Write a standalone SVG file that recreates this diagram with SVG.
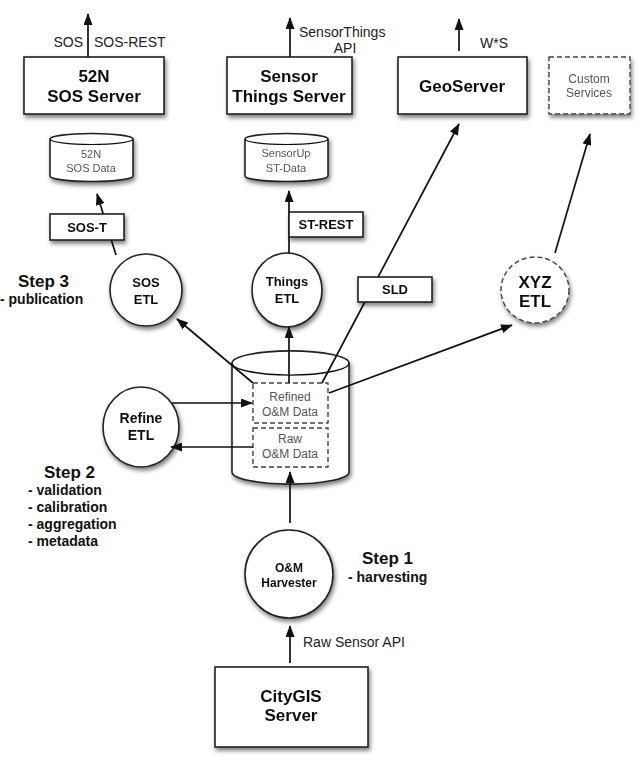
<svg xmlns="http://www.w3.org/2000/svg" width="640" height="764" viewBox="0 0 640 764">
<defs>
<style>
text{font-family:"Liberation Sans",Arial,sans-serif;fill:#111;text-anchor:middle}
.box{fill:#fff;stroke:#222;stroke-width:1.6}
.dash{fill:#fff;stroke:#444;stroke-width:1.4;stroke-dasharray:5,3}
.dashin{fill:none;stroke:#444;stroke-width:1.4;stroke-dasharray:5,3}
.big{font-size:17px;font-weight:bold}
.mid{font-size:13px;font-weight:bold}
.sm{font-size:11px;fill:#555}
.lab{font-size:14px;fill:#222}
.step{font-size:17px;font-weight:bold;text-anchor:start}
.stepl{font-size:14px;font-weight:bold;text-anchor:start}
.conn{stroke:#111;stroke-width:1.7;fill:none;marker-end:url(#ah)}
.line{stroke:#111;stroke-width:1.6;fill:none}
.sh{filter:url(#shadow)}
</style>
<marker id="ah" markerUnits="userSpaceOnUse" markerWidth="12" markerHeight="9" refX="11" refY="4.5" orient="auto">
<path d="M0,0 L12,4.5 L0,9 z" fill="#111"/>
</marker>
<filter id="shadow" x="-20%" y="-20%" width="150%" height="160%">
<feDropShadow dx="1.5" dy="3" stdDeviation="2" flood-color="#000" flood-opacity="0.5"/>
</filter>
</defs>

<g id="sos-server" class="sh">
<rect class="box" x="24" y="57" width="140" height="57"/>
<text class="big" x="94" y="82">52N</text>
<text class="big" x="94" y="102">SOS Server</text>
</g>
<g id="things-server" class="sh">
<rect class="box" x="227" y="57" width="125" height="57"/>
<text class="big" x="289" y="82">Sensor</text>
<text class="big" x="289" y="102">Things Server</text>
</g>
<g id="geoserver" class="sh">
<rect class="box" x="398" y="57" width="129" height="57"/>
<text class="big" x="462" y="92">GeoServer</text>
</g>
<g id="custom-services" class="sh">
<rect class="dash" x="549" y="57" width="81" height="57"/>
<text class="sm" x="589" y="83" style="font-size:12px">Custom</text>
<text class="sm" x="589" y="97" style="font-size:12px">Services</text>
</g>

<g id="sos-data" class="sh">
<path class="box" d="M50,139 A41.5,5.5 0 0 1 133,139 L133,176 A41.5,5.5 0 0 1 50,176 Z"/>
<path class="line" d="M50,139 A41.5,5.5 0 0 0 133,139" style="stroke-width:1.2"/>
<text class="sm" x="91" y="158">52N</text>
<text class="sm" x="91" y="172">SOS Data</text>
</g>
<g id="st-data" class="sh">
<path class="box" d="M245,139 A41.5,5.5 0 0 1 328,139 L328,176 A41.5,5.5 0 0 1 245,176 Z"/>
<path class="line" d="M245,139 A41.5,5.5 0 0 0 328,139" style="stroke-width:1.2"/>
<text class="sm" x="286" y="157">SensorUp</text>
<text class="sm" x="286" y="172">ST-Data</text>
</g>

<g id="sos-etl" class="sh">
<ellipse class="box" cx="146" cy="290" rx="36" ry="36"/>
<text class="mid" x="146" y="287">SOS</text>
<text class="mid" x="146" y="304">ETL</text>
</g>
<g id="things-etl" class="sh">
<ellipse class="box" cx="287" cy="290" rx="35" ry="37"/>
<text class="mid" x="287" y="286">Things</text>
<text class="mid" x="287" y="303">ETL</text>
</g>
<g id="xyz-etl" class="sh">
<ellipse class="dash" cx="535" cy="290" rx="34" ry="33"/>
<text class="big" x="535" y="288">XYZ</text>
<text class="big" x="535" y="307">ETL</text>
</g>

<g id="om-store" class="sh">
<path class="box" d="M232,363 A58,12 0 0 1 349,363 L349,472 A58,12 0 0 1 232,472 Z"/>
<path class="line" d="M232,363 A58,12 0 0 0 349,363" style="stroke-width:1.4"/>
</g>
<g id="refined-data">
<rect class="dashin" x="253" y="383" width="75" height="40"/>
<text class="sm" x="290" y="401" style="font-size:12px">Refined</text>
<text class="sm" x="290" y="416" style="font-size:12px">O&amp;M Data</text>
</g>
<g id="raw-data">
<rect class="dashin" x="253" y="428" width="75" height="39"/>
<text class="sm" x="290" y="443" style="font-size:12px">Raw</text>
<text class="sm" x="290" y="458" style="font-size:12px">O&amp;M Data</text>
</g>

<g id="refine-etl" class="sh">
<ellipse class="box" cx="141" cy="427" rx="38" ry="40"/>
<text class="mid" x="141" y="423" style="font-size:14px">Refine</text>
<text class="mid" x="141" y="440" style="font-size:14px">ETL</text>
</g>

<g id="harvester" class="sh">
<ellipse class="box" cx="289" cy="574" rx="44" ry="44"/>
<text class="mid" x="289" y="572" style="font-size:12px">O&amp;M</text>
<text class="mid" x="289" y="587" style="font-size:12px">Harvester</text>
</g>

<g id="citygis" class="sh">
<rect class="box" x="215" y="667" width="153" height="80"/>
<text class="big" x="291" y="702">CityGIS</text>
<text class="big" x="291" y="721">Server</text>
</g>

<g id="connectors">
<line class="conn" x1="88" y1="57" x2="88" y2="14"/>
<line class="conn" x1="290" y1="57" x2="290" y2="18"/>
<line class="conn" x1="459" y1="51" x2="459" y2="19"/>
<line class="conn" x1="116" y1="255" x2="97" y2="194"/>
<line class="conn" x1="289" y1="253" x2="289" y2="191"/>
<line class="conn" x1="253" y1="383" x2="177" y2="319"/>
<line class="conn" x1="289" y1="383" x2="289" y2="327"/>
<line class="conn" x1="322" y1="383" x2="459" y2="124"/>
<line class="conn" x1="329" y1="393" x2="512" y2="325"/>
<line class="conn" x1="555" y1="253" x2="590" y2="134"/>
<line class="conn" x1="172" y1="403" x2="252" y2="403"/>
<line class="conn" x1="253" y1="447" x2="171" y2="447"/>
<line class="conn" x1="290" y1="523" x2="290" y2="472"/>
<line class="conn" x1="290" y1="663" x2="290" y2="626"/>
</g>

<g id="sos-t" class="sh">
<rect class="box" x="50" y="214" width="74" height="26"/>
<text class="mid" x="87" y="232">SOS-T</text>
</g>
<g id="st-rest" class="sh">
<rect class="box" x="289" y="212" width="74" height="25"/>
<text class="mid" x="326" y="229">ST-REST</text>
</g>
<g id="sld" class="sh">
<rect class="box" x="358" y="277" width="74" height="25"/>
<text class="mid" x="395" y="294">SLD</text>
</g>

<g id="labels">
<text class="lab" x="83" y="47" style="text-anchor:end">SOS</text>
<text class="lab" x="94" y="47" style="text-anchor:start">SOS-REST</text>
<text class="lab" x="299" y="37" style="text-anchor:start">SensorThings</text>
<text class="lab" x="345" y="53">API</text>
<text class="lab" x="480" y="48" style="text-anchor:start">W*S</text>
<text class="lab" x="303" y="647" style="text-anchor:start">Raw Sensor API</text>
<text class="step" x="18" y="287">Step 3</text>
<text class="stepl" x="0" y="304">- publication</text>
<text class="step" x="44" y="478">Step 2</text>
<text class="stepl" x="28" y="495">- validation</text>
<text class="stepl" x="28" y="512">- calibration</text>
<text class="stepl" x="28" y="529">- aggregation</text>
<text class="stepl" x="28" y="546">- metadata</text>
<text class="step" x="362" y="564">Step 1</text>
<text class="stepl" x="348" y="582">- harvesting</text>
</g>
</svg>
